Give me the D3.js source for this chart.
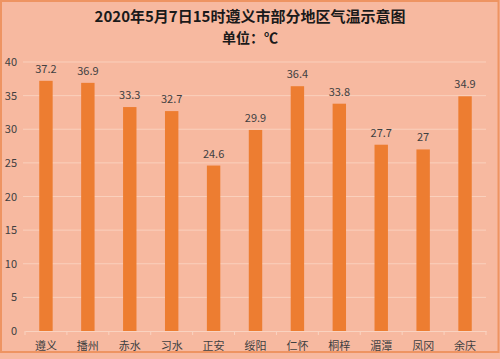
<!DOCTYPE html>
<html><head><meta charset="utf-8">
<script src="https://cdn.jsdelivr.net/npm/d3@7"></script>
<style>html,body{margin:0;padding:0;background:#F7B9A0;}svg{display:block;}</style>
</head><body>
<script>
const categories = ["遵义","播州","赤水","习水","正安","绥阳","仁怀","桐梓","湄潭","凤冈","余庆"];
const values = [37.2,36.9,33.3,32.7,24.6,29.9,36.4,33.8,27.7,27,34.9];
const yTicks = [0,5,10,15,20,25,30,35,40];
const titleText = "2020年5月7日15时遵义市部分地区气温示意图";
const subtitleText = "单位：℃";

const W = 500, H = 359;
const font = "'Noto Sans CJK SC','Noto Sans',sans-serif";
const svg = d3.select("body").append("svg").attr("width", W).attr("height", H);

svg.append("rect").attr("x",0).attr("y",0).attr("width",W).attr("height",H).attr("fill","#F7B9A0");
svg.append("rect").attr("x",1).attr("y",1).attr("width",W-2.5).attr("height",351)
  .attr("fill","#F7B9A0").attr("stroke","#EE9462").attr("stroke-width",2);

const x = d3.scaleBand().domain(categories).range([25, 486]).paddingInner(0.68).paddingOuter(0.34);
const y = d3.scaleLinear().domain([0, 40]).range([331, 62]);

// gridlines
svg.append("g").selectAll("line").data(yTicks.filter(d=>d>0)).join("line")
  .attr("x1", 23).attr("x2", 486)
  .attr("y1", d=>y(d)).attr("y2", d=>y(d))
  .attr("stroke", "#FAD0BC").attr("stroke-width", 1);

// y axis labels
const yAxis = d3.axisLeft(y).tickValues(yTicks).tickSize(0).tickPadding(0);
const gy = svg.append("g").attr("transform","translate(17,0)").call(yAxis);
gy.select(".domain").remove();
gy.selectAll("text").attr("font-family", font).attr("font-size", 11).attr("fill","#404040");

// bars
svg.append("g").selectAll("rect").data(values).join("rect")
  .attr("x", (d,i)=>x(categories[i]))
  .attr("width", x.bandwidth())
  .attr("y", d=>y(d))
  .attr("height", d=>y(0)-y(d))
  .attr("fill", "#ED7D31");

// x axis
const xAxis = d3.axisBottom(x).tickSize(0).tickPadding(11);
const gx = svg.append("g").attr("transform", `translate(0,${y(0)})`).call(xAxis);
gx.select(".domain").attr("stroke","#FAD3C0");
gx.selectAll("text").attr("font-family", font).attr("font-size", 11).attr("fill","#404040");
// category boundary ticks
const step = x.step();
svg.append("g").selectAll("line").data(d3.range(categories.length+1)).join("line")
  .attr("x1", i => 25 + i*step).attr("x2", i => 25 + i*step)
  .attr("y1", y(0)).attr("y2", y(0)+4)
  .attr("stroke","#FAD3C0");

// value labels
svg.append("g").selectAll("text").data(values).join("text")
  .attr("x", (d,i)=>x(categories[i]) + x.bandwidth()/2)
  .attr("y", d=>y(d) - 8)
  .attr("text-anchor","middle")
  .attr("font-family", font).attr("font-size", 11).attr("fill","#404040")
  .text(d=>d);

// titles
svg.append("text").attr("x", 250).attr("y", 22).attr("text-anchor","middle")
  .attr("font-family", font).attr("font-size", 15).attr("font-weight","bold").attr("fill","#1a1a1a")
  .text(titleText);
svg.append("text").attr("x", 250).attr("y", 43).attr("text-anchor","middle")
  .attr("font-family", font).attr("font-size", 14).attr("font-weight","bold").attr("fill","#1a1a1a")
  .text(subtitleText);
</script>
</body></html>
